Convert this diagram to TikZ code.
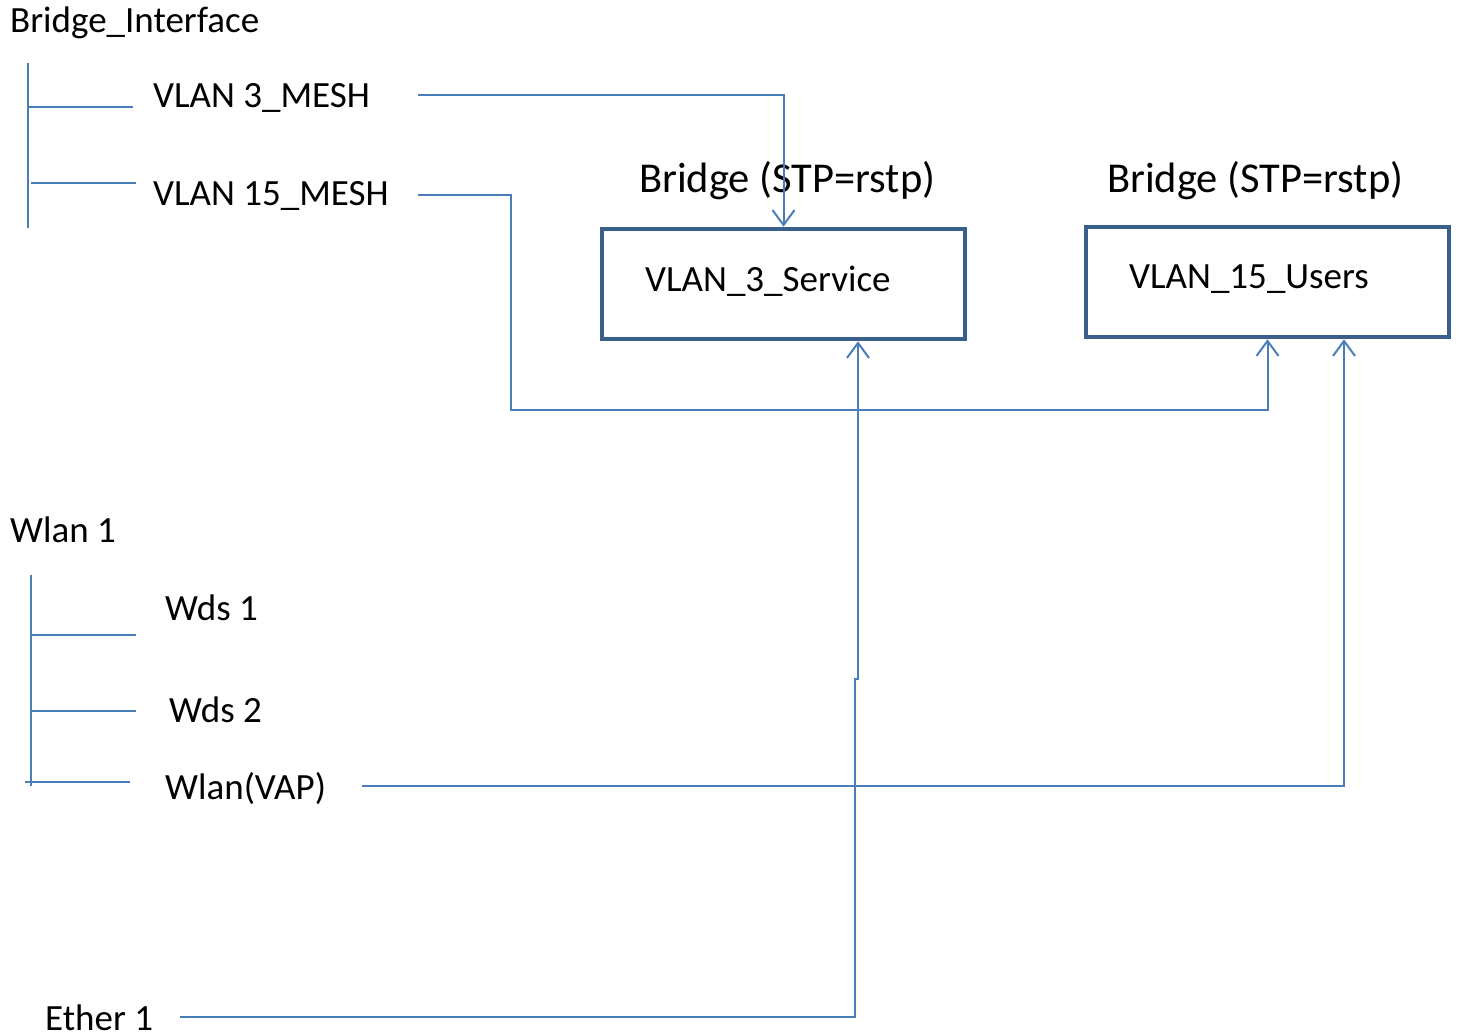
\documentclass[tikz,border=0pt]{standalone}
\usepackage{fontspec}
\setmainfont{Carlito}
\usetikzlibrary{arrows.meta}
\definecolor{ln}{HTML}{4A7EBB}
\definecolor{bx}{HTML}{3A5F8B}
\begin{document}
\begin{tikzpicture}[x=1pt,y=-1pt,
  lbl/.style={anchor=base west,inner sep=0pt,font=\fontsize{37}{44}\selectfont},
  ttl/.style={anchor=base west,inner sep=0pt,font=\fontsize{42.5}{50}\selectfont},
  wire/.style={draw=ln,line width=2pt},
  arr/.style={wire,-{Straight Barb[length=15pt,width=22pt]}},
  box/.style={draw=bx,line width=4.5pt,minimum width=363pt,minimum height=110pt,inner sep=0pt}]
\useasboundingbox (0,0) rectangle (1459,1035);

% labels
\node[lbl] (bi) at (10,33) {Bridge\_Interface};
\node[lbl] (v3) at (153,108) {VLAN 3\_MESH};
\node[lbl] (v15) at (153,206) {VLAN 15\_MESH};
\node[lbl] (w1) at (10,542) {Wlan 1};
\node[lbl] (wd1) at (165,620) {Wds 1};
\node[lbl] (wd2) at (169,722) {Wds 2};
\node[lbl] (vap) at (165,799) {Wlan(VAP)};
\node[lbl] (eth) at (45,1030) {Ether 1};
\node[ttl] (t1) at (639,193) {Bridge (STP=rstp)};
\node[ttl] (t2) at (1107,193) {Bridge (STP=rstp)};

% boxes
\node[box] (b1) at (783.5,284) {};
\node[box] (b2) at (1267.5,282) {};
\node[lbl] (b1t) at (645,291) {VLAN\_3\_Service};
\node[lbl] (b2t) at (1129,288) {VLAN\_15\_Users};

% tree 1
\coordinate (ta) at (28,63);
\coordinate (tb) at (28,228);
\draw[wire] (ta) -- (tb);
\coordinate (ta1) at (28,107);
\coordinate (ta1e) at (133,107);
\draw[wire] (ta1) -- (ta1e);
\coordinate (ta2) at (31,183);
\coordinate (ta2e) at (136,183);
\draw[wire] (ta2) -- (ta2e);

% tree 2
\coordinate (sa) at (31,575);
\coordinate (sb) at (31,786);
\draw[wire] (sa) -- (sb);
\coordinate (sa1) at (31,635);
\coordinate (sa1e) at (136,635);
\draw[wire] (sa1) -- (sa1e);
\coordinate (sa2) at (31,711);
\coordinate (sa2e) at (136,711);
\draw[wire] (sa2) -- (sa2e);
\coordinate (sa3) at (25,782);
\coordinate (sa3e) at (130,782);
\draw[wire] (sa3) -- (sa3e);

% connectors
\coordinate (c3) at (418,95);
\draw[arr] (c3) -| (b1.north);

\coordinate (c15) at (418,195);
\coordinate (c15a) at (511,410);
\draw[arr] (c15) -| (c15a) -| (b2.south);

\coordinate (cvap) at (362,786);
\coordinate (cvapx) at (1344,786);
\draw[arr] (cvap) -- (cvapx) -- (cvapx |- b2.south);

\coordinate (ce) at (180,1017);
\coordinate (cej) at (855,679);
\coordinate (cej2) at (858,679);
\draw[arr] (ce) -| (cej) -- (cej2) -- (cej2 |- b1.south);
\end{tikzpicture}
\end{document}
